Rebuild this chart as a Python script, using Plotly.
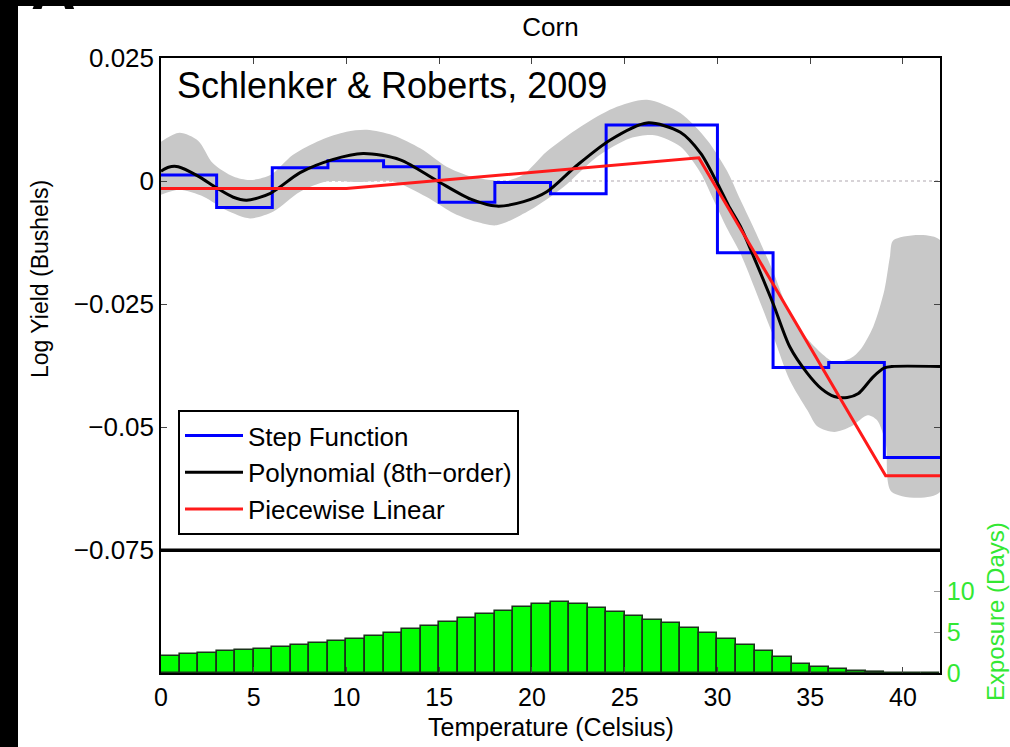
import plotly.graph_objects as go

FONT = "Liberation Sans, Arial, Helvetica, sans-serif"

# ---- Step function (3-degree bins) ----
step_edges = [0, 3, 6, 9, 12, 15, 18, 21, 24, 27, 30, 33, 36, 39, 42]
step_vals = [0.0012, -0.0054, 0.0027, 0.0041, 0.0029, -0.0043, -0.0003,
             -0.0026, 0.0114, 0.0114, -0.0146, -0.0379, -0.0369, -0.0562]

# ---- Piecewise linear ----
pw_x = [0, 10, 29, 39.07, 42]
pw_y = [-0.0015, -0.0015, 0.0047, -0.0599, -0.0599]

# ---- Polynomial (8th order) ----
poly_x = [0, 0.4, 0.93, 2, 3.0, 3.9, 4.62, 5.9, 7.5, 9.2, 10.9, 12.9, 14.9,
          16.7, 18.1, 19.55, 20.8, 22.4, 24.2, 26.2, 28.0, 29.1, 30.0, 30.6,
          31.25, 32.1, 33.0, 33.9, 34.85, 35.6, 36.3, 37.0, 37.6, 38.4, 39.0,
          39.4, 42]
poly_y = [0.0020, 0.0028, 0.0029, 0.0010, -0.0014, -0.0033, -0.0039, -0.0025,
          0.0017, 0.0043, 0.0056, 0.0043, 0.0000, -0.0037, -0.0051, -0.0042,
          -0.0022, 0.0031, 0.0083, 0.0118, 0.0099, 0.0056, -0.0005, -0.0050,
          -0.0093, -0.0167, -0.0249, -0.0337, -0.0391, -0.0422, -0.0438,
          -0.0440, -0.0432, -0.0398, -0.0380, -0.0377, -0.0377]

# ---- Confidence band ----
band_up_x = [0, 1, 2, 2.8, 3.9, 4.8, 5.9, 7.1, 8.6, 10, 11.1, 12.5, 14, 15.4,
             16.7, 17.75, 18.6, 19.5, 20.8, 22.6, 24.4, 26.2, 28, 29.45, 30.5,
             31.25, 32.1, 33, 33.9, 34.85, 36.3, 37.2, 37.7, 38.4, 39.0, 39.3,
             39.5, 42]
band_up_y = [0.0080, 0.0098, 0.0082, 0.0036, 0.0009, 0.0002, 0.0012, 0.0053,
             0.0083, 0.0100, 0.0104, 0.0093, 0.0066, 0.0029, 0.0009, 0.0002,
             0.0000, 0.0012, 0.0060, 0.0110, 0.0148, 0.0165, 0.0138, 0.0083,
             0.0022, -0.0039, -0.0107, -0.0184, -0.0269, -0.0321, -0.0368,
             -0.0360, -0.0343, -0.0296, -0.0222, -0.0154, -0.0120, -0.0120]
band_lo_x = [0, 1, 2.3, 3.5, 4.8, 6.06, 7.5, 8.9, 10.7, 12.5, 14.3, 15.8, 17,
             18.1, 19.9, 21.7, 23.5, 25.3, 26.6, 28, 29.1, 29.8, 30.5, 31.25,
             32.1, 33, 33.9, 34.85, 35.4, 36.3, 37.2, 38.1, 38.6, 39.07, 39.4,
             42]
band_lo_y = [-0.0028, -0.0018, -0.0032, -0.0059, -0.0076, -0.0062, -0.0022,
             -0.0001, -0.0002, -0.0001, -0.0032, -0.0066, -0.0083, -0.0090,
             -0.0059, -0.0012, 0.0049, 0.0087, 0.0093, 0.0070, 0.0016, -0.0039,
             -0.0095, -0.0148, -0.0227, -0.0314, -0.0405, -0.0466, -0.0499,
             -0.0510, -0.0499, -0.0476, -0.0486, -0.0533, -0.0632, -0.0632]

# ---- Exposure histogram (days per 1-degree bin) ----
expo_bin_left = list(range(0, 42))
expo_days = [2.07, 2.28, 2.44, 2.64, 2.80, 2.97, 3.17, 3.37, 3.62, 3.86, 4.15,
             4.51, 4.92, 5.33, 5.77, 6.26, 6.75, 7.17, 7.62, 8.09, 8.45, 8.62,
             8.38, 7.91, 7.40, 6.95, 6.46, 6.06, 5.53, 4.92, 4.19, 3.46, 2.64,
             1.91, 1.14, 0.69, 0.45, 0.20, 0.08, 0.03, 0.01, 0.005]

x_ticks = [0, 5, 10, 15, 20, 25, 30, 35, 40]
y_ticks = [0.025, 0, -0.025, -0.05, -0.075]
y_ticktext = ["0.025", "0", "\u22120.025", "\u22120.05", "\u22120.075"]
y2_ticks = [0, 5, 10]

GREEN_TXT = "#33e833"

fig = go.Figure()

# zero reference (dotted)
fig.add_trace(go.Scatter(x=[0, 42], y=[0, 0], mode="lines",
                         line=dict(color="#b0a8b0", width=1.2, dash="dot"),
                         showlegend=False, hoverinfo="skip",
                         xaxis="x", yaxis="y"))

# confidence band
fig.add_trace(go.Scatter(x=band_up_x + band_lo_x[::-1],
                         y=band_up_y + band_lo_y[::-1],
                         mode="lines", fill="toself",
                         fillcolor="rgb(200,200,200)",
                         line=dict(width=0, shape="spline", smoothing=0.8),
                         showlegend=False, hoverinfo="skip",
                         xaxis="x", yaxis="y"))

fig.add_trace(go.Scatter(x=step_edges, y=step_vals + [step_vals[-1]],
                         mode="lines", name="Step Function",
                         line=dict(color="#0000ff", width=3, shape="hv"),
                         xaxis="x", yaxis="y"))
fig.add_trace(go.Scatter(x=poly_x, y=poly_y, mode="lines",
                         name="Polynomial (8th\u2212order)",
                         line=dict(color="#000000", width=3, shape="spline",
                                   smoothing=0.8),
                         xaxis="x", yaxis="y"))
fig.add_trace(go.Scatter(x=pw_x, y=pw_y, mode="lines", name="Piecewise Linear",
                         line=dict(color="#ff1a1a", width=3),
                         xaxis="x", yaxis="y"))

fig.add_trace(go.Bar(x=[b + 0.5 for b in expo_bin_left], y=expo_days, width=1,
                     marker=dict(color="#00ff00",
                                 line=dict(color="#1a331a", width=1.6)),
                     showlegend=False, xaxis="x2", yaxis="y2"))

W, H = 1010, 747
L, R, T, B = 161, 70, 58, 74
PW, PH = W - L - R, H - T - B


def px_x(px):
    return (px - L) / PW


def px_y(py):
    return (H - B - py) / PH


split = px_y(550)

fig.update_layout(
    width=W, height=H,
    margin=dict(l=L, r=R, t=T, b=B, autoexpand=False),
    paper_bgcolor="white", plot_bgcolor="white",
    font=dict(family=FONT, size=25, color="black"),
    bargap=0,
    title=dict(text="Corn", x=px_x(550.5), xanchor="center", xref="paper",
               y=1 - 27 / H, yanchor="middle", yref="container",
               font=dict(size=26, color="black")),
    xaxis=dict(domain=[0, 1], range=[0, 42], anchor="y", side="top",
               tickvals=x_ticks, ticks="inside", ticklen=6, tickwidth=1,
               showticklabels=False, showline=True, mirror=True,
               linecolor="black", linewidth=1.5, showgrid=False,
               zeroline=False),
    xaxis2=dict(domain=[0, 1], range=[0, 42], anchor="y2", side="bottom",
                tickvals=x_ticks, ticks="inside", ticklen=6, tickwidth=1,
                showline=True, linecolor="black", linewidth=1.5,
                showgrid=False, zeroline=False, ticklabelstandoff=1,
                tickfont=dict(size=25, color="black")),
    yaxis=dict(domain=[split, 1], range=[-0.075, 0.025], anchor="x",
               tickvals=y_ticks, ticktext=y_ticktext, ticks="inside",
               ticklen=6, tickwidth=1, showline=True, mirror="ticks",
               linecolor="black", linewidth=1.5, showgrid=False,
               zeroline=False, tickfont=dict(size=26, color="black")),
    yaxis2=dict(domain=[0, split], range=[0, 15], anchor="x2", side="right",
                tickvals=y2_ticks, ticks="inside", ticklen=6, tickwidth=1,
                tickcolor="#999999", showline=True, mirror=True,
                linecolor="black", linewidth=1.5, showgrid=False,
                zeroline=False, tickfont=dict(size=25, color=GREEN_TXT)),
    legend=dict(x=px_x(178), y=px_y(410), xanchor="left", yanchor="top",
                bgcolor="white", bordercolor="black", borderwidth=2,
                itemwidth=58, tracegroupgap=0,
                font=dict(size=26, color="black"), traceorder="normal"),
    showlegend=True,
)

# divider between panels
fig.add_shape(type="line", xref="paper", yref="paper", x0=0, x1=1,
              y0=split, y1=split, line=dict(color="black", width=3))

# black image borders (scan edges)
fig.add_shape(type="rect", xref="paper", yref="paper",
              x0=px_x(0), x1=px_x(18), y0=px_y(H), y1=px_y(0),
              fillcolor="black", line=dict(width=0), layer="above")
fig.add_shape(type="rect", xref="paper", yref="paper",
              x0=px_x(0), x1=px_x(W), y0=px_y(6), y1=px_y(0),
              fillcolor="black", line=dict(width=0), layer="above")

# panel letter, mostly cut off by the top edge (as in the source figure)
fig.add_annotation(text="<b>A</b>", xref="paper", yref="paper",
                   x=px_x(53), y=px_y(24), xanchor="center",
                   yanchor="bottom", showarrow=False,
                   font=dict(size=62, color="black"))

fig.add_annotation(text="Schlenker &amp; Roberts, 2009", xref="paper",
                   yref="paper", x=px_x(175), y=px_y(85), xanchor="left",
                   yanchor="middle", showarrow=False,
                   font=dict(size=36, color="black"))
fig.add_annotation(text="Temperature (Celsius)", xref="paper", yref="paper",
                   x=px_x(550.5), y=px_y(711), xanchor="center",
                   yanchor="top", showarrow=False,
                   font=dict(size=25, color="black"))
fig.add_annotation(text="Log Yield (Bushels)", xref="paper", yref="paper",
                   x=px_x(40), y=px_y(279), xanchor="center",
                   yanchor="middle", textangle=-90, showarrow=False,
                   font=dict(size=23, color="black"))
fig.add_annotation(text="Exposure (Days)", xref="paper", yref="paper",
                   x=px_x(995), y=px_y(611), xanchor="center",
                   yanchor="middle", textangle=-90, showarrow=False,
                   font=dict(size=24, color=GREEN_TXT))

fig.write_html("out.html")
